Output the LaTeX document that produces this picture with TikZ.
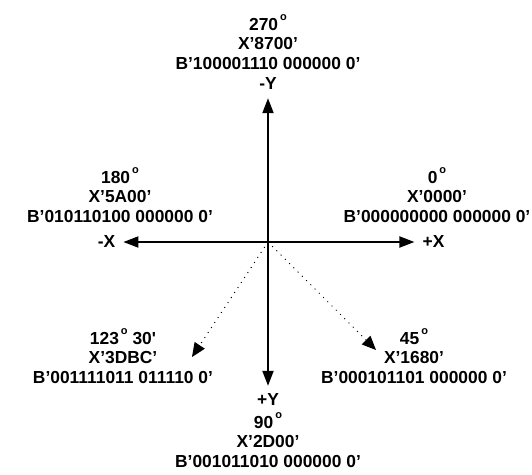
\documentclass[tikz,border=0pt]{standalone}
\usepackage{fontspec}
\newfontfamily\arialb{Liberation Sans}
\usetikzlibrary{arrows.meta}
\newcommand\dg{\kern2pt\smash{\raisebox{10pt}{\fontsize{11}{11}\selectfont o}}}
\begin{document}
\begin{tikzpicture}[x=1pt,y=-1pt,
  lbl/.style={font=\arialb\bfseries\fontsize{17.4}{19.5}\selectfont, align=center, inner sep=0pt},
  axlbl/.style={font=\arialb\bfseries\fontsize{17.4}{19.5}\selectfont, inner sep=8pt},
  axis/.style={line width=2pt, -{Triangle[length=15pt,width=11pt]}},
  diag/.style={line width=1pt, dash pattern=on 1pt off 5pt, -{Triangle[length=14pt,width=12pt]}}]
\useasboundingbox (0,0) rectangle (532,474);
\coordinate (O) at (268,242);
% axis labels
\node[axlbl] (mY) at (268,84) {-Y};
\node[axlbl] (pY) at (268,400) {+Y};
\node[axlbl] (mX) at (106.5,242) {-X};
\node[axlbl] (pX) at (433.5,242) {+X};
% blocks
\node[lbl] (b270) at (268,44) {270\dg\\X’8700’\\B’100001110 000000 0’};
\node[lbl] (b180) at (120,197) {180\dg\\X’5A00’\\B’010110100 000000 0’};
\node[lbl] (b0) at (437,197) {0\dg\\X’0000’\\B’000000000 000000 0’};
\node[lbl] (b123) at (123,358) {123\dg{} 30'\\X’3DBC’\\B’001111011 011110 0’};
\node[lbl] (b45) at (414,358) {45\dg\\X’1680’\\B’000101101 000000 0’};
\node[lbl] (b90) at (268,442) {90\dg\\X’2D00’\\B’001011010 000000 0’};
% diagonal ends
\coordinate (dl) at (192,357);
\coordinate (dr) at (376,350);
% axes
\draw[axis] (O) -- (mY);
\draw[axis] (O) -- (pY);
\draw[axis] (O) -- (mX);
\draw[axis] (O) -- (pX);
\draw[diag] (O) -- (dl);
\draw[diag] (O) -- (dr);
\end{tikzpicture}
\end{document}
